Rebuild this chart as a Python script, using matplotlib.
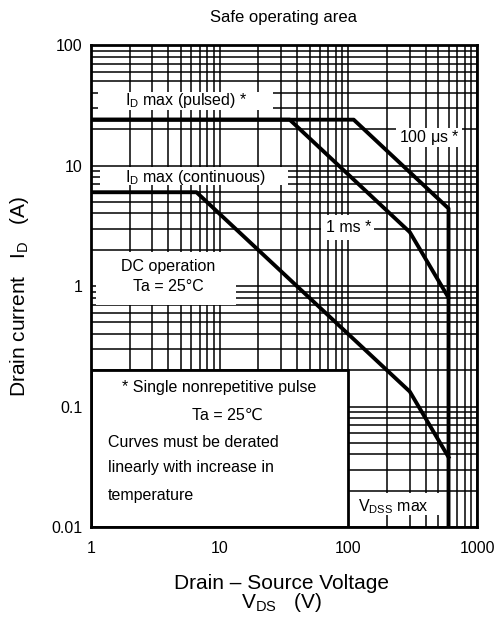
import matplotlib
matplotlib.use("Agg")
import matplotlib.pyplot as plt
from matplotlib.patches import Rectangle

plt.rcParams['font.family'] = ['Liberation Sans', 'DejaVu Sans']
plt.rcParams['mathtext.fontset'] = 'custom'
plt.rcParams['mathtext.rm'] = 'Liberation Sans'
plt.rcParams['mathtext.it'] = 'Liberation Sans'

# safe operating area curves (V, A)
dc_v = [1, 6.6, 300, 600]
dc_i = [6.0, 6.0, 0.133, 0.038]
ms1_v = [1, 35, 300, 600]
ms1_i = [24, 24, 2.8, 0.8]
us100_v = [1, 110, 600, 600]
us100_i = [24, 24, 4.4, 0.01]

x_ticks = [1, 10, 100, 1000]
x_ticklabels = ['1', '10', '100', '1000']
y_ticks = [0.01, 0.1, 1, 10, 100]
y_ticklabels = ['0.01', '0.1', '1', '10', '100']

fig = plt.figure(figsize=(4.98, 6.18), dpi=100)
ax = fig.add_axes([0.1827, 0.1472, 0.7753, 0.78])
ax.set_xscale('log')
ax.set_yscale('log')
ax.set_xlim(1, 1000)
ax.set_ylim(0.01, 100)

ax.grid(which='both', color='black', lw=1.1, zorder=0)
ax.set_axisbelow(True)

for s in ax.spines.values():
    s.set_linewidth(2)
    s.set_zorder(6)
ax.tick_params(which='both', length=0, labelsize=11.5)
ax.tick_params(axis='x', pad=10)
ax.tick_params(axis='y', pad=6)
ax.set_xticks(x_ticks)
ax.set_xticklabels(x_ticklabels)
ax.set_yticks(y_ticks)
ax.set_yticklabels(y_ticklabels)

ax.plot(dc_v, dc_i, color='black', lw=2.8, zorder=5)
ax.plot(ms1_v, ms1_i, color='black', lw=2.8, zorder=5)
ax.plot(us100_v, us100_i, color='black', lw=2.8, zorder=5)


def white_box(x0, x1, y0, y1, edge='none', lw=0):
    ax.add_patch(Rectangle((x0, y0), x1 - x0, y1 - y0, facecolor='white',
                           edgecolor=edge, lw=lw, zorder=3))


# label backgrounds that hide the grid
white_box(1.13, 25.8, 28.9, 40.7)
white_box(1.17, 33.7, 6.89, 9.72)
white_box(235, 765, 14.3, 20.5)
white_box(61.8, 159, 2.41, 3.88)
white_box(1.09, 13.5, 0.695, 1.91)
white_box(100, 535, 0.0126, 0.0191)
white_box(1, 100, 0.01, 0.2, edge='black', lw=2)

fs = 11.5
ax.text(1.83, 34.5, r'I$_\mathrm{D}$ max (pulsed) *', fontsize=fs, va='center', zorder=4)
ax.text(425, 17.2, r'100 $\mathrm{\mu}$s *', fontsize=fs, ha='center', va='center', zorder=4)
ax.text(1.83, 8.0, r'I$_\mathrm{D}$ max (continuous)', fontsize=fs, va='center', zorder=4)
ax.text(67, 3.03, '1 ms *', fontsize=fs, va='center', zorder=4)
ax.text(4.0, 1.2, 'DC operation\nTa = 25°C', fontsize=fs, ha='center', va='center',
        multialignment='center', linespacing=1.45, zorder=4)

ax.text(10, 0.1425, '* Single nonrepetitive pulse', fontsize=fs, ha='center',
        va='center', zorder=4)
ax.text(11.5, 0.085, 'Ta = 25℃', fontsize=fs, ha='center', va='center', zorder=4)
ax.text(1.355, 0.0507, 'Curves must be derated', fontsize=fs, va='center', zorder=4)
ax.text(1.355, 0.0309, 'linearly with increase in', fontsize=fs, va='center', zorder=4)
ax.text(1.355, 0.0181, 'temperature', fontsize=fs, va='center', zorder=4)
ax.text(119.6, 0.0147, r'V$_\mathrm{DSS}$ max', fontsize=fs, va='center', zorder=4)

fig.text(0.570, 0.971, 'Safe operating area', fontsize=12, ha='center', va='center')
fig.text(0.566, 0.0566, 'Drain – Source Voltage', fontsize=15, ha='center', va='center')
fig.text(0.566, 0.0243, r'V$_\mathrm{DS}$   (V)', fontsize=15, ha='center', va='center')
fig.text(0.040, 0.52, r'Drain current   I$_\mathrm{D}$   (A)', fontsize=15,
         rotation=90, ha='center', va='center')

fig.savefig('out.png', dpi=100)
